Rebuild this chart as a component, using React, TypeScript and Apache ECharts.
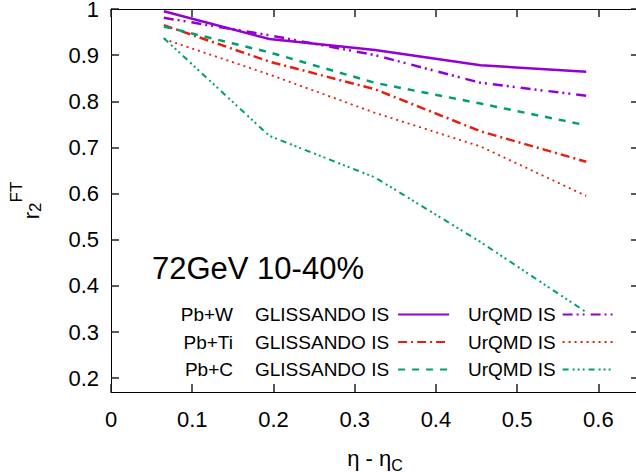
import React, { useEffect, useRef } from "react";
import * as echarts from "echarts";

const etaValues = [0.065, 0.195, 0.325, 0.455, 0.585];
const pbwGlissando = [0.995, 0.935, 0.911, 0.878, 0.864];
const pbwUrqmd = [0.981, 0.943, 0.9, 0.84, 0.812];
const pbtiGlissando = [0.965, 0.886, 0.826, 0.735, 0.669];
const pbtiUrqmd = [0.935, 0.858, 0.775, 0.702, 0.595];
const pbcGlissando = [0.962, 0.906, 0.84, 0.795, 0.748];
const pbcUrqmd = [0.937, 0.725, 0.635, 0.495, 0.343];
const xTicks = [0, 0.1, 0.2, 0.3, 0.4, 0.5, 0.6];
const yTicks = [0.2, 0.3, 0.4, 0.5, 0.6, 0.7, 0.8, 0.9, 1];
const systems = ["Pb+W", "Pb+Ti", "Pb+C"];
const annotation = "72GeV 10-40%";

const FONT = "'Liberation Sans', Arial, Helvetica, sans-serif";
const PURPLE = "#9400D3";
const RED = "#E51E10";
const GREEN = "#009E73";
const TICK = { color: "#222", width: 1.5 };

const pairs = (ys: number[]) => etaValues.map((x, i) => [x, ys[i]]);

export default function App() {
  const ref = useRef<HTMLDivElement>(null);
  useEffect(() => {
    if (!ref.current) return;
    const chart = echarts.init(ref.current, null, { renderer: "svg" });
    const gNames = systems.map((s) => s + " GLISSANDO IS");
    const uNames = systems.map((s) => s + " UrQMD IS");
    const mk = (name: string, data: number[], color: string, width: number, type: any) => ({
      name,
      type: "line",
      data: pairs(data),
      symbol: "none",
      showSymbol: false,
      smooth: false,
      lineStyle: { color, width, type },
      itemStyle: { color },
      z: 3,
    });
    const option: any = {
      animation: false,
      backgroundColor: "#fff",
      textStyle: { fontFamily: FONT },
      title: {
        text: annotation,
        left: 147,
        top: 248,
        textStyle: { fontFamily: FONT, fontSize: 31, fontWeight: "normal", color: "#000" },
      },
      grid: { left: 111, top: 9, right: -3, bottom: 80, containLabel: false, outerBoundsMode: "none" },
      xAxis: [
        {
          type: "value",
          position: "bottom",
          min: 0,
          max: 0.65,
          interval: 0.1,
          splitLine: { show: false },
          axisLine: { show: true, onZero: false, lineStyle: { color: "#000", width: 1 } },
          axisTick: { show: true, inside: true, length: 8, lineStyle: TICK },
          axisLabel: {
            show: true,
            fontSize: 22,
            fontFamily: FONT,
            color: "#000",
            margin: 16,
            customValues: xTicks,
          },
          name: "{n|η - η}{c|C}",
          nameLocation: "middle",
          nameGap: 51,
          nameTextStyle: {
            color: "#000",
            fontFamily: FONT,
            rich: {
              n: { fontSize: 22, lineHeight: 30, verticalAlign: "middle", fontFamily: FONT, color: "#000" },
              c: { fontSize: 16, lineHeight: 16, verticalAlign: "bottom", fontFamily: FONT, color: "#000" },
            },
          },
        },
        {
          type: "value",
          position: "top",
          min: 0,
          max: 0.65,
          interval: 0.1,
          splitLine: { show: false },
          axisLine: { show: true, onZero: false, lineStyle: { color: "#000", width: 1 } },
          axisTick: { show: true, inside: true, length: 8, lineStyle: TICK },
          axisLabel: { show: false },
        },
      ],
      yAxis: [
        {
          type: "value",
          position: "left",
          min: 0.17,
          max: 1,
          splitLine: { show: false },
          axisLine: { show: true, onZero: false, lineStyle: { color: "#000", width: 1 } },
          axisTick: { show: true, inside: true, length: 8, lineStyle: TICK, customValues: yTicks },
          axisLabel: {
            show: true,
            fontSize: 22,
            fontFamily: FONT,
            color: "#000",
            margin: 12,
            customValues: yTicks,
          },
          name: "{r|r}{s|2}{p|FT}",
          nameLocation: "middle",
          nameGap: 56,
          nameRotate: 90,
          nameTextStyle: {
            color: "#000",
            fontFamily: FONT,
            rich: {
              r: { fontSize: 22, lineHeight: 47, verticalAlign: "middle", fontFamily: FONT, color: "#000" },
              s: { fontSize: 17, lineHeight: 17, verticalAlign: "middle", padding: [8, 0, 0, 0], fontFamily: FONT, color: "#000" },
              p: { fontSize: 17, lineHeight: 17, verticalAlign: "top", fontFamily: FONT, color: "#000" },
            },
          },
        },
        {
          type: "value",
          position: "right",
          min: 0.17,
          max: 1,
          splitLine: { show: false },
          axisLine: { show: true, onZero: false, lineStyle: { color: "#000", width: 1 } },
          axisTick: { show: true, inside: true, length: 8, lineStyle: TICK, customValues: yTicks },
          axisLabel: { show: false, customValues: yTicks },
        },
      ],
      legend: [
        {
          data: gNames,
          orient: "vertical",
          left: 130,
          top: 300,
          itemWidth: 51,
          itemHeight: 20,
          itemGap: 8.5,
          align: "right",
          selectedMode: false,
          itemStyle: { opacity: 0 },
          formatter: (name: string) => {
            const sys = name.split(" ")[0];
            return "{a|" + sys + "}{b|GLISSANDO IS}";
          },
          textStyle: {
            fontFamily: FONT,
            fontSize: 19,
            color: "#000",
            rich: {
              a: { width: 98, align: "right", fontSize: 19, lineHeight: 20, fontFamily: FONT, color: "#000" },
              b: { fontSize: 19, lineHeight: 20, padding: [0, 4, 0, 22], fontFamily: FONT, color: "#000" },
            },
          },
        },
        {
          data: uNames,
          orient: "vertical",
          left: 463,
          top: 300,
          itemWidth: 51,
          itemHeight: 20,
          itemGap: 8.5,
          align: "right",
          selectedMode: false,
          itemStyle: { opacity: 0 },
          formatter: () => "{b|UrQMD IS}",
          textStyle: {
            fontFamily: FONT,
            fontSize: 19,
            color: "#000",
            rich: {
              b: { fontSize: 19, lineHeight: 20, padding: [0, 2, 0, 0], fontFamily: FONT, color: "#000" },
            },
          },
        },
      ],
      series: [
        mk(gNames[0], pbwGlissando, PURPLE, 2.5, "solid"),
        mk(uNames[0], pbwUrqmd, PURPLE, 2.5, [10, 4, 2, 4, 2, 6]),
        mk(gNames[1], pbtiGlissando, RED, 2.5, [9, 4, 2, 4]),
        mk(uNames[1], pbtiUrqmd, RED, 1.8, [2, 4]),
        mk(gNames[2], pbcGlissando, GREEN, 2.5, [7, 7]),
        mk(uNames[2], pbcUrqmd, GREEN, 2, [6, 4, 2, 3, 2, 3, 2, 4]),
      ],
    };
    chart.setOption(option);
    return () => chart.dispose();
  }, []);
  return <div ref={ref} style={{ width: 636, height: 472, position: "absolute", left: 0, top: 0 }} />;
}
